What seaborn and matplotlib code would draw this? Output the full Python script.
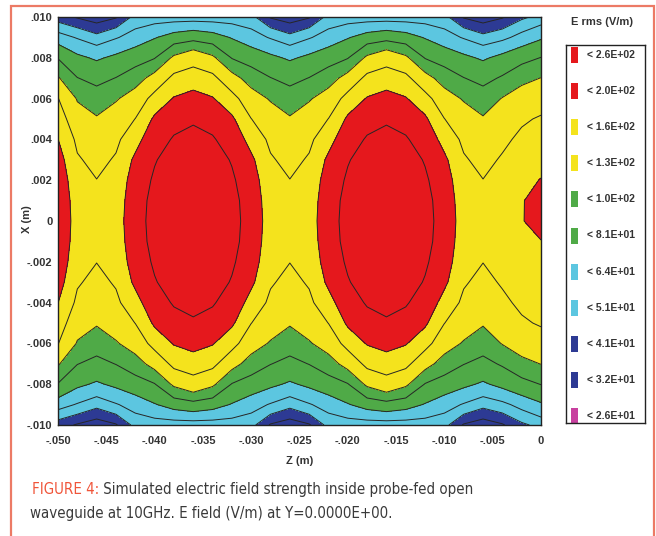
import matplotlib
matplotlib.use("Agg")
import matplotlib.pyplot as plt
from matplotlib import font_manager
from matplotlib.patches import Rectangle
from matplotlib.text import Annotation
import numpy as np
import pandas as pd
import seaborn as sns

sns.set_style("white")
plt.rcParams['font.family'] = ['Liberation Sans', 'DejaVu Sans']

# sample positions of the simulated field (m)
z_m = [-0.050, -0.048, -0.046, -0.044, -0.042, -0.040, -0.038, -0.036, -0.034,
       -0.032, -0.030, -0.028, -0.026, -0.024, -0.022, -0.020, -0.018, -0.016,
       -0.014, -0.012, -0.010, -0.008, -0.006, -0.004, -0.002, 0.000]
x_m = [-0.010, -0.009, -0.008, -0.007, -0.006, -0.005, -0.004, -0.003, -0.002,
       -0.001, 0.000, 0.001, 0.002, 0.003, 0.004, 0.005, 0.006, 0.007, 0.008,
       0.009, 0.010]

# E rms (V/m), one row per x value (bottom to top), one column per z value
e_rms = [
    [36, 31, 27, 31, 44, 45, 45, 45, 45, 45, 44, 31, 27, 31, 44, 45, 45, 45, 45, 45, 44, 31, 27, 31, 39, 44],
    [56, 50, 44, 50, 56, 63, 70, 74, 70, 63, 56, 50, 44, 50, 56, 63, 70, 74, 70, 63, 56, 50, 44, 48, 55, 62],
    [80, 67, 62, 67, 73, 80, 104, 117, 104, 80, 73, 67, 62, 67, 73, 80, 104, 117, 104, 80, 73, 67, 62, 68, 75, 81.5],
    [102, 81.5, 76, 81.5, 91, 108, 138, 146, 138, 108, 91, 81.5, 76, 81.5, 91, 108, 138, 146, 138, 108, 91, 81.5, 76, 83, 94, 100.5],
    [131, 98, 89, 98, 110, 141, 162, 170, 162, 141, 110, 98, 89, 98, 110, 141, 162, 170, 162, 141, 110, 98, 89, 101, 111, 117],
    [145, 111, 102, 111, 130.5, 165, 185, 194, 185, 165, 130.5, 111, 102, 111, 130.5, 165, 185, 194, 185, 165, 130.5, 111, 102, 112, 126, 133],
    [160.5, 124, 112, 124, 149, 181, 204, 214, 204, 181, 149, 124, 112, 124, 149, 181, 204, 214, 204, 181, 149, 124, 112, 124, 136, 143],
    [173, 133, 122, 133, 166, 197, 218, 230, 218, 197, 166, 133, 122, 133, 166, 197, 218, 230, 218, 197, 166, 133, 122, 133, 146, 152],
    [182, 139, 130.5, 139, 175, 206, 230, 241, 230, 206, 175, 139, 130.5, 139, 175, 206, 230, 241, 230, 206, 175, 139, 130.5, 140, 153, 152],
    [188, 143, 134, 143, 180, 213, 238, 248, 238, 213, 180, 143, 134, 143, 180, 213, 238, 248, 238, 213, 180, 143, 134, 144, 159, 159.5],
    [190, 145, 135, 145, 182, 215, 240, 250, 240, 215, 182, 145, 135, 145, 182, 215, 240, 250, 240, 215, 182, 145, 135, 145, 159, 167],
    [188, 143, 134, 143, 180, 213, 238, 248, 238, 213, 180, 143, 134, 143, 180, 213, 238, 248, 238, 213, 180, 143, 134, 144, 159, 166],
    [182, 139, 130.5, 139, 175, 206, 230, 241, 230, 206, 175, 139, 130.5, 139, 175, 206, 230, 241, 230, 206, 175, 139, 130.5, 140, 153, 161],
    [173, 133, 122, 133, 166, 197, 218, 230, 218, 197, 166, 133, 122, 133, 166, 197, 218, 230, 218, 197, 166, 133, 122, 133, 146, 152],
    [160.5, 124, 112, 124, 149, 181, 204, 214, 204, 181, 149, 124, 112, 124, 149, 181, 204, 214, 204, 181, 149, 124, 112, 124, 136, 143],
    [145, 111, 102, 111, 130.5, 165, 185, 194, 185, 165, 130.5, 111, 102, 111, 130.5, 165, 185, 194, 185, 165, 130.5, 111, 102, 112, 126, 133],
    [131, 98, 89, 98, 110, 141, 162, 170, 162, 141, 110, 98, 89, 98, 110, 141, 162, 170, 162, 141, 110, 98, 89, 101, 111, 117],
    [102, 81.5, 76, 81.5, 91, 108, 138, 146, 138, 108, 91, 81.5, 76, 81.5, 91, 108, 138, 146, 138, 108, 91, 81.5, 76, 83, 94, 100.5],
    [80, 67, 62, 67, 73, 80, 104, 117, 104, 80, 73, 67, 62, 67, 73, 80, 104, 117, 104, 80, 73, 67, 62, 68, 75, 81.5],
    [56, 50, 44, 50, 56, 63, 70, 74, 70, 63, 56, 50, 44, 50, 56, 63, 70, 74, 70, 63, 56, 50, 44, 48, 55, 62],
    [36, 31, 27, 31, 44, 45, 45, 45, 45, 45, 44, 31, 27, 31, 44, 45, 45, 45, 45, 45, 44, 31, 27, 31, 39, 44],
]

level_edges = [0, 26, 32, 41, 51, 64, 81, 100, 130, 160, 200, 260]
band_colors = sns.color_palette(['#C8409F', '#2D3A94', '#2D3A94', '#5CC6E0', '#5CC6E0',
                                 '#4FAA47', '#4FAA47', '#F4E31D', '#F4E31D', '#E5181D', '#E5181D'])

z_ticks = [-0.050, -0.045, -0.040, -0.035, -0.030, -0.025, -0.020, -0.015, -0.010, -0.005, 0.0]
z_tick_labels = ['-.050', '-.045', '-.040', '-.035', '-.030', '-.025', '-.020', '-.015', '-.010', '-.005', '0']
x_ticks = [-0.010, -0.008, -0.006, -0.004, -0.002, 0.0, 0.002, 0.004, 0.006, 0.008, 0.010]
x_tick_labels = ['-.010', '-.008', '-.006', '-.004', '-.002', '0', '.002', '.004', '.006', '.008', '.010']

caption_head = 'FIGURE 4:'
caption_line1 = ' Simulated electric field strength inside probe-fed open'
caption_line2 = 'waveguide at 10GHz. E field (V/m) at Y=0.0000E+00.'

field = pd.DataFrame(e_rms, index=x_m, columns=z_m)

W, H = 656, 536
fig = plt.figure(figsize=(W / 100, H / 100), dpi=100)
fig.patch.set_facecolor('white')

ax = fig.add_axes([58 / W, 1 - 425 / H, 483 / W, 408 / H])
ax.contourf(field.columns, field.index, field.values, levels=level_edges, colors=band_colors)
ax.contour(field.columns, field.index, field.values, levels=level_edges[1:-1],
           colors='#262626', linewidths=0.7)
ax.set_xlim(-0.050, 0.0)
ax.set_ylim(-0.010, 0.010)

ax.set_xticks(z_ticks)
ax.set_xticklabels(z_tick_labels, fontweight='bold', fontsize=8, color='#333333')
ax.set_yticks(x_ticks)
ax.set_yticklabels(x_tick_labels, fontweight='bold', fontsize=8, color='#333333')
ax.tick_params(direction='in', length=4, width=0.6, color='#333333',
               bottom=True, left=True, top=True, right=True)
ax.tick_params(axis='x', pad=8)
ax.tick_params(axis='y', pad=4)
for spine in ax.spines.values():
    spine.set_color('#222222')
    spine.set_linewidth(1.0)

ax.set_xlabel('Z (m)', fontweight='bold', fontsize=8, color='#333333')
ax.xaxis.set_label_coords(0.5, -0.075)
ax.set_ylabel('X (m)', fontweight='bold', fontsize=8, color='#333333')
ax.yaxis.set_label_coords(-0.054, 0.505)

# legend panel
fig.text(602 / W, 1 - 22 / H, 'E rms (V/m)', ha='center', va='center',
         fontsize=8, fontweight='bold', color='#333333')
leg = fig.add_axes([566 / W, 1 - 423 / H, 79 / W, 378 / H])
leg.set_xlim(0, 79)
leg.set_ylim(378, 0)
leg.set_xticks([])
leg.set_yticks([])
for spine in leg.spines.values():
    spine.set_color('#222222')
    spine.set_linewidth(1.0)
for i, (upper, color) in enumerate(zip(level_edges[:0:-1], list(band_colors)[::-1])):
    yc = 10 + i * 36.1
    leg.add_patch(Rectangle((5, yc - 8), 7, 16, facecolor=color, linewidth=0))
    leg.text(21, yc, f"< {upper:.1E}", ha='left', va='center',
             fontsize=7.5, fontweight='bold', color='#333333')

# magazine frame
fig.patches.append(Rectangle((11 / W, -0.05), (654 - 11) / W, (536 - 6) / H + 0.05,
                             transform=fig.transFigure, fill=False,
                             edgecolor='#EC7A65', linewidth=1.6))

# caption: use a narrow face when one is installed
cap_family, cap_stretch = 'Liberation Sans', 'normal'
for f in font_manager.fontManager.ttflist:
    if f.stretch in ('condensed', 'semi-condensed') or 'Narrow' in f.name or 'Condensed' in f.name:
        cap_family, cap_stretch = f.name, f.stretch
        break

cap_kw = dict(family=[cap_family, 'DejaVu Sans'], fontstretch=cap_stretch, fontsize=12.5)
t1 = fig.text(32 / W, 1 - 497 / H, caption_head, ha='left', va='bottom',
              color='#F0553A', **cap_kw)
t2 = Annotation(caption_line1, xy=(1, 0), xycoords=t1, ha='left', va='bottom',
                color='#3A3A3A', **cap_kw)
fig.add_artist(t2)
t3 = fig.text(30 / W, 1 - 521 / H, caption_line2, ha='left', va='bottom',
              color='#3A3A3A', **cap_kw)

# scale the caption so that the first line spans the same width as the original
fig.canvas.draw()
r = fig.canvas.get_renderer()
width = t2.get_window_extent(r).x1 - t1.get_window_extent(r).x0
scale = 441 / width
for t in (t1, t2, t3):
    t.set_fontsize(12.5 * scale)

fig.savefig('out.png', dpi=100)
